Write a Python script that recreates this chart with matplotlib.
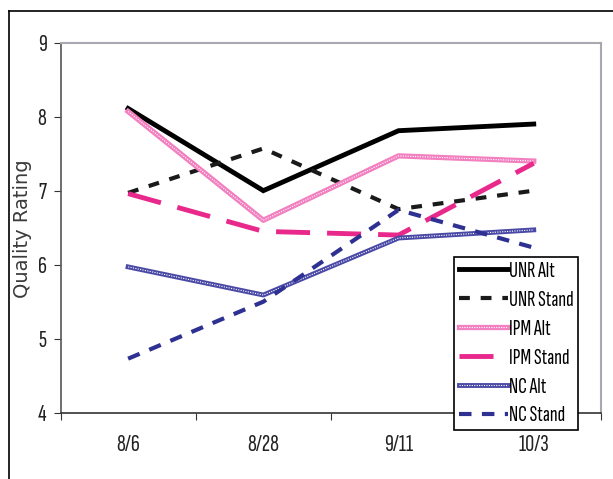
import matplotlib.pyplot as plt
from matplotlib.lines import Line2D

dates = ['8/6', '8/28', '9/11', '10/3']

unr_alt = [8.11, 7.00, 7.81, 7.90]
unr_stand = [6.97, 7.57, 6.75, 7.00]
ipm_alt = [8.07, 6.60, 7.47, 7.40]
ipm_stand = [6.96, 6.45, 6.40, 7.37]
nc_alt = [5.97, 5.59, 6.36, 6.47]
nc_stand = [4.73, 5.50, 6.74, 6.23]

narrow = ['Sofia Sans Extra Condensed', 'DejaVu Sans']

fig = plt.figure(figsize=(6.13, 4.79), dpi=100)
ax = fig.add_axes([0.0987, 0.1384, 0.8823, 0.7726])
x = range(len(dates))

# outer chart border (only left/top visible in the crop)
fig.add_artist(Line2D([0.015, 0.015], [0.0, 0.976], color='black', lw=1.2, transform=fig.transFigure))
fig.add_artist(Line2D([0.015, 1.0], [0.976, 0.976], color='black', lw=1.2, transform=fig.transFigure))

l1, = ax.plot(x, unr_alt, color='black', lw=3.5, solid_joinstyle='miter')
l2, = ax.plot(x, unr_stand, color='#1a1a1a', lw=3, ls=(0, (2.6, 2.6)))
l3a, = ax.plot(x, ipm_alt, color='#f27fbf', lw=3.8)
l3b, = ax.plot(x, ipm_alt, color='white', lw=0.8, ls=(0, (1, 1.2)))
l4, = ax.plot(x, ipm_stand, color='#e8298b', lw=3.5, ls=(0, (7, 3.5)))
l5a, = ax.plot(x, nc_alt, color='#4a4aa6', lw=3.5)
l5b, = ax.plot(x, nc_alt, color='white', lw=0.8, ls=(0, (1, 1.2)))
l6, = ax.plot(x, nc_stand, color='#2e3192', lw=3, ls=(0, (3, 2.5)))

ax.set_xlim(-0.5, 3.5)
ax.set_ylim(4, 9)
ax.set_yticks(range(4, 10))
ax.set_xticks([-0.5, 0.5, 1.5, 2.5, 3.5])
ax.set_xticklabels([])
ax.set_xticks(list(x), minor=True)
ax.set_xticklabels(dates, minor=True, fontsize=18, family=narrow, color='#222222')
ax.tick_params(axis='x', which='minor', length=0, pad=15)
ax.tick_params(axis='x', which='major', length=5, direction='out', color='#333333')
ax.tick_params(axis='y', length=5, direction='out', pad=5, color='#333333',
               labelsize=18, labelcolor='#222222')
for lab in ax.get_yticklabels():
    lab.set_family(narrow)

ax.spines['left'].set_color('#555555')
ax.spines['bottom'].set_color('#333333')
ax.spines['left'].set_linewidth(1.2)
ax.spines['bottom'].set_linewidth(1.2)
ax.spines['top'].set_color('#a8a8b0')
ax.spines['right'].set_color('#a8a8b0')
ax.spines['top'].set_linewidth(1.5)
ax.spines['right'].set_linewidth(1.5)

fig.text(0.037, 0.523, 'Quality Rating', rotation=90, ha='center', va='center',
         fontsize=14, color='#3a3a3a', family='DejaVu Sans')

leg = ax.legend([l1, l2, (l3a, l3b), l4, (l5a, l5b), l6],
                ['UNR Alt', 'UNR Stand', 'IPM Alt', 'IPM Stand', 'NC Alt', 'NC Stand'],
                loc='upper left', bbox_to_anchor=(0.741, 0.4635),
                bbox_transform=fig.transFigure, fancybox=False, framealpha=1,
                edgecolor='black', borderpad=0.2, handlelength=2.2,
                handletextpad=0.08, labelspacing=0.42, borderaxespad=0,
                prop={'family': narrow, 'size': 16})
leg.get_frame().set_linewidth(1.2)
leg.set_zorder(5)

fig.savefig('out.png', dpi=100)
